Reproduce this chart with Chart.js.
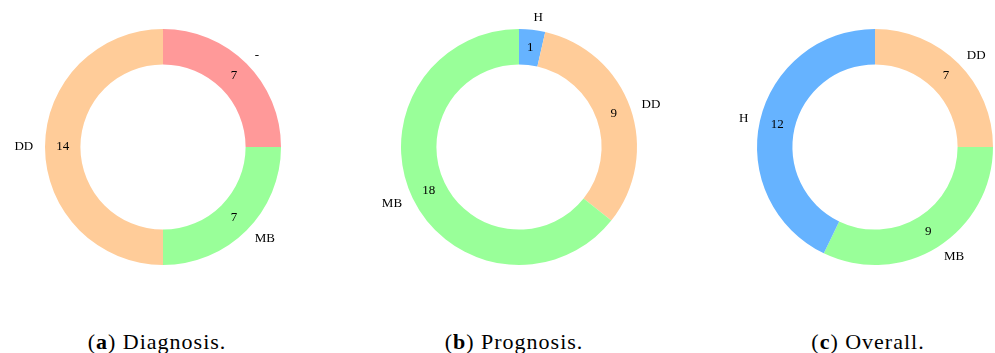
<!DOCTYPE html>
<html>
<head>
<meta charset="utf-8">
<script src="https://cdn.jsdelivr.net/npm/chart.js@4"></script>
<style>
  html, body { margin: 0; padding: 0; background: #fff; overflow: hidden; }
  body { width: 995px; height: 353px; position: relative; }
  canvas { position: absolute; }
  .caption {
    position: absolute; top: 331px; width: 300px; text-align: center;
    font-family: "Times New Roman", "Liberation Serif", Tinos, serif; font-size: 22px; line-height: 22px;
    letter-spacing: 1px; color: #000; white-space: nowrap;
  }
  .caption b { font-weight: bold; }
</style>
</head>
<body>
<canvas id="diag" width="300" height="294"></canvas>
<canvas id="prog" width="300" height="294"></canvas>
<canvas id="over" width="300" height="294"></canvas>
<div class="caption" id="capA">(<b>a</b>) Diagnosis.</div>
<div class="caption" id="capB">(<b>b</b>) Prognosis.</div>
<div class="caption" id="capC">(<b>c</b>) Overall.</div>
<script>
// Category counts for each subset
const diagnosisLabels = ['-', 'MB', 'DD'];
const diagnosisValues = [7, 7, 14];

const prognosisLabels = ['H', 'DD', 'MB'];
const prognosisValues = [1, 9, 18];

const overallLabels = ['DD', 'MB', 'H'];
const overallValues = [7, 9, 12];

// One colour per category, shared by all three rings
const categoryColors = {
  '-': '#ff9999',
  'DD': '#ffcc99',
  'MB': '#99ff99',
  'H': '#66b3ff'
};

const RING_RADIUS = 118;        // outer radius in px
const CANVAS_W = 300, CANVAS_H = 294;
const LABEL_FONT = '13px "Times New Roman", "Liberation Serif", Tinos, serif';

// Category names outside the ring, counts inside it
const sliceLabels = {
  id: 'sliceLabels',
  afterDatasetsDraw(chart) {
    const ctx = chart.ctx;
    const meta = chart.getDatasetMeta(0);
    const values = chart.data.datasets[0].data;
    const names = chart.data.labels;
    ctx.save();
    ctx.fillStyle = '#000';
    ctx.font = LABEL_FONT;
    ctx.textBaseline = 'middle';
    meta.data.forEach((arc, i) => {
      const p = arc.getProps(['x', 'y', 'startAngle', 'endAngle', 'outerRadius'], true);
      const mid = (p.startAngle + p.endAngle) / 2;
      const cx = Math.cos(mid), cy = Math.sin(mid);
      // name
      const lx = p.x + cx * p.outerRadius * 1.1;
      const ly = p.y + cy * p.outerRadius * 1.1;
      ctx.textAlign = cx > 0 ? 'left' : 'right';
      ctx.fillText(names[i], lx, ly);
      // count
      ctx.textAlign = 'center';
      ctx.fillText(String(values[i]), p.x + cx * p.outerRadius * 0.85, p.y + cy * p.outerRadius * 0.85);
    });
    ctx.restore();
  }
};

function ring(id, labels, values, cx, cy) {
  const el = document.getElementById(id);
  el.style.left = (cx - CANVAS_W / 2) + 'px';
  el.style.top = (cy - CANVAS_H / 2) + 'px';
  const padX = (CANVAS_W - 2 * RING_RADIUS) / 2;
  const padY = (CANVAS_H - 2 * RING_RADIUS) / 2;
  return new Chart(el, {
    type: 'doughnut',
    data: {
      labels: labels,
      datasets: [{
        data: values,
        backgroundColor: labels.map(l => categoryColors[l]),
        borderWidth: 0
      }]
    },
    options: {
      responsive: false,
      animation: false,
      devicePixelRatio: 1,
      cutout: '70%',
      layout: { padding: { left: padX, right: padX, top: padY, bottom: padY } },
      plugins: { legend: { display: false }, tooltip: { enabled: false } }
    },
    plugins: [sliceLabels]
  });
}

ring('diag', diagnosisLabels, diagnosisValues, 163, 147);
ring('prog', prognosisLabels, prognosisValues, 519, 147);
ring('over', overallLabels, overallValues, 875, 147);

// captions centred slightly left of each ring
[['capA', 157], ['capB', 514], ['capC', 868]].forEach(([id, x]) => {
  document.getElementById(id).style.left = (x - 150) + 'px';
});
</script>
</body>
</html>
